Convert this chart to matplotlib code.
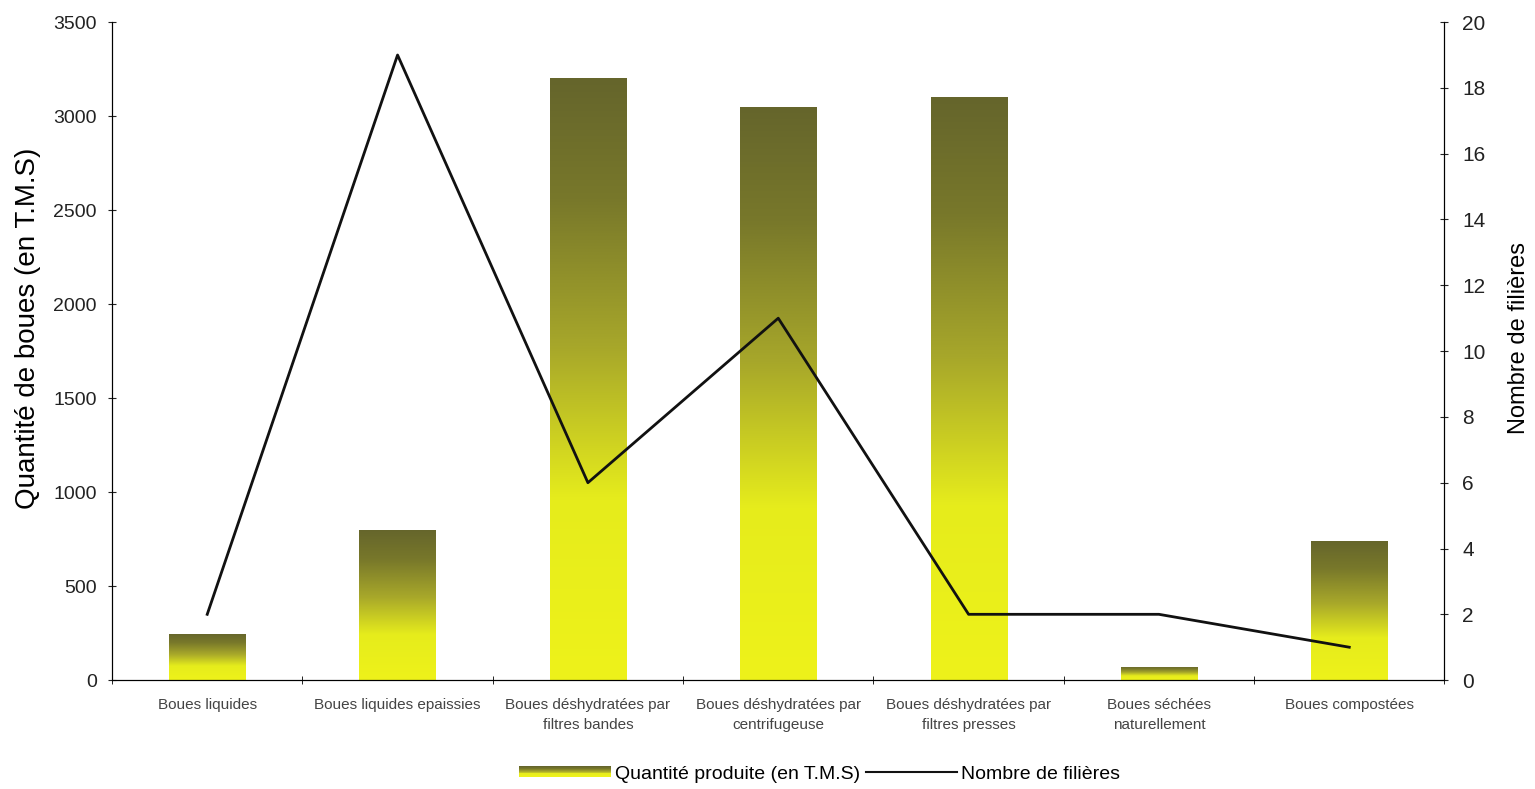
import numpy as np
import matplotlib
matplotlib.use("Agg")
import matplotlib.pyplot as plt
from matplotlib.colors import LinearSegmentedColormap
from matplotlib.patches import Patch, Rectangle
from matplotlib.lines import Line2D
from matplotlib.legend_handler import HandlerBase

categories = [
    "Boues liquides",
    "Boues liquides epaissies",
    "Boues déshydratées par\nfiltres bandes",
    "Boues déshydratées par\ncentrifugeuse",
    "Boues déshydratées par\nfiltres presses",
    "Boues séchées\nnaturellement",
    "Boues compostées",
]
quantite = [245, 800, 3200, 3050, 3100, 70, 740]
filieres = [2, 19, 6, 11, 2, 2, 1]

plt.rcParams["font.family"] = ["Liberation Sans", "DejaVu Sans"]

cmap = LinearSegmentedColormap.from_list(
    "boues", [(0, "#eef21a"), (0.3, "#e6ec1c"), (0.55, "#a8a82a"),
              (0.8, "#78782a"), (1, "#65652c")]
)


class GradientHandler(HandlerBase):
    # legend swatch: stacked strips, olive on top, yellow at the bottom
    def create_artists(self, legend, orig_handle, xdescent, ydescent,
                       width, height, fontsize, trans):
        n = 12
        h = height / n
        arts = []
        for i in range(n):
            r = Rectangle((-xdescent, -ydescent + i * h), width, h * 1.05,
                          facecolor=cmap(i / (n - 1)), edgecolor="none",
                          transform=trans)
            arts.append(r)
        return arts


fig = plt.figure(figsize=(15.35, 7.89), dpi=100)
ax = fig.add_axes([0.073, 0.138, 0.868, 0.834])

x = np.arange(len(categories))
bars = ax.bar(x, quantite, width=0.4, color="none", edgecolor="none", zorder=2)

grad = np.linspace(0, 1, 256).reshape(-1, 1)
for b in bars:
    x0, y0 = b.get_x(), b.get_y()
    im = ax.imshow(grad, cmap=cmap, origin="lower", aspect="auto",
                   extent=(x0, x0 + b.get_width(), y0, y0 + b.get_height()),
                   zorder=2)
    im.set_clip_path(b)

ax.set_xlim(-0.5, len(categories) - 0.5)
ax.set_ylim(0, 3500)
ax.set_yticks(range(0, 3501, 500))
ax.set_xticks(x)
ax.set_xticklabels(categories, fontsize=11, color="#444444", linespacing=1.5)
ax.set_xticks(np.arange(-0.5, len(categories), 1), minor=True)
ax.tick_params(axis="x", which="major", length=0, pad=13)
ax.tick_params(axis="x", which="minor", length=6, direction="inout")
ax.tick_params(axis="y", labelsize=14, length=6, direction="inout",
               pad=8, colors="#222222")
ax.set_ylabel("Quantité de boues (en T.M.S)", fontsize=20)
ax.yaxis.set_label_coords(-0.053, 0.535)
ax.spines["top"].set_visible(False)

ax2 = ax.twinx()
ax2.plot(x, filieres, color="#111111", lw=2, zorder=3)
ax2.set_ylim(0, 20)
ax2.set_yticks(range(0, 21, 2))
ax2.tick_params(axis="y", labelsize=15, length=6, direction="inout",
                pad=10, colors="#222222")
ax2.set_ylabel("Nombre de filières", fontsize=17)
ax2.yaxis.set_label_coords(1.048, 0.52)
ax2.spines["top"].set_visible(False)

handles = [Patch(facecolor="#b8c21e", edgecolor="none"),
           Line2D([0], [0], color="#111111", lw=1.5)]
fig.legend(handles, ["Quantité produite (en T.M.S)", "Nombre de filières"],
           loc="center", bbox_to_anchor=(0.534, 0.019), ncol=2, frameon=False,
           fontsize=14, handlelength=4.7, handleheight=0.5, columnspacing=0.3,
           handletextpad=0.2, handler_map={Patch: GradientHandler()})

fig.savefig("out.png", dpi=100)
